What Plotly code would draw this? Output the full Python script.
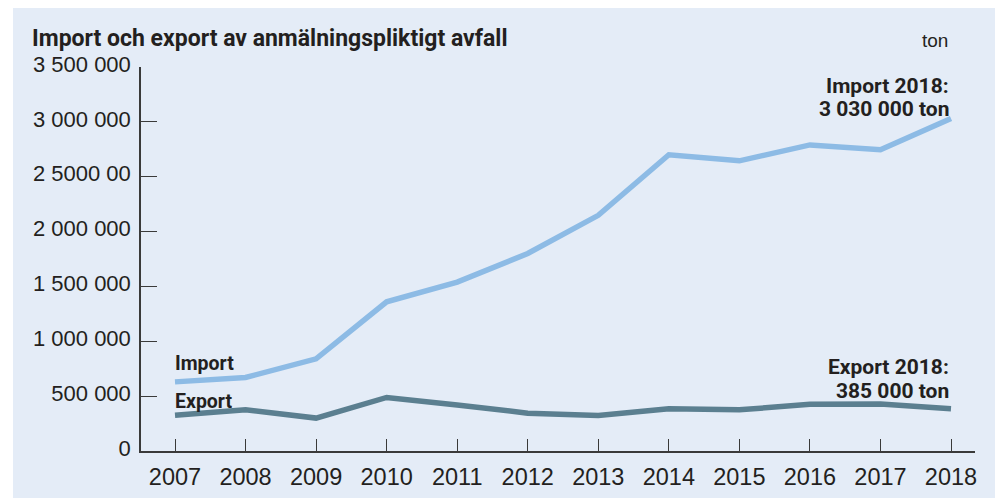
import plotly.graph_objects as go

years = list(range(2007, 2019))
import_ton = [630000, 670000, 840000, 1360000, 1540000, 1800000, 2148000, 2700000, 2645000, 2790000, 2745000, 3030000]
export_ton = [325000, 375000, 300000, 488000, 420000, 345000, 324000, 385000, 375000, 425000, 428000, 385000]
y_tickvals = [0, 500000, 1000000, 1500000, 2000000, 2500000, 3000000, 3500000]
y_ticktext = ["0", "500 000", "1 000 000", "1 500 000", "2 000 000", "2 5000 00", "3 000 000", "3 500 000"]

W, H = 995, 498
L, R, T, B = 141, 20, 67, 498 - 451
pw, ph = W - L - R, H - T - B

def px(sx):
    return (sx - L) / pw

def py(sy):
    return (H - B - sy) / ph

BG = "#e4ecf7"
TXT = "#231f20"
AX = "#3a3a3a"
FONT = "Liberation Sans, Arial, sans-serif"
BOLD = "Roboto, sans-serif"

fig = go.Figure()
fig.add_trace(go.Scatter(x=years, y=import_ton, mode="lines", name="Import",
                         line=dict(color="#8dbbe5", width=5.5), hoverinfo="skip"))
fig.add_trace(go.Scatter(x=years, y=export_ton, mode="lines", name="Export",
                         line=dict(color="#5b7f90", width=5.5), hoverinfo="skip"))

ann = []
ann.append(dict(xref="paper", yref="paper", x=px(30), y=py(38), xanchor="left", yanchor="middle",
                text="<b>Import och export av anmälningspliktigt avfall</b>", showarrow=False,
                font=dict(size=23, color=TXT, family=BOLD)))
ann.append(dict(xref="paper", yref="paper", x=px(950), y=py(40), xanchor="right", yanchor="middle",
                text="ton", showarrow=False, font=dict(size=19, color=TXT, family=FONT)))

def end_label(val, lines, shifts):
    for t, s in zip(lines, shifts):
        ann.append(dict(xref="x", yref="y", x=years[-1], y=val, xanchor="right", yanchor="middle",
                        yshift=s, text="<b>%s</b>" % t, showarrow=False,
                        font=dict(size=21, color=TXT, family=BOLD)))

end_label(import_ton[-1], ["Import 2018:", "3 030 000 ton"], [33, 10])
end_label(export_ton[-1], ["Export 2018:", "385 000 ton"], [42, 18])

ann.append(dict(xref="x", yref="y", x=years[0], y=795000, xanchor="left", yanchor="middle",
                xshift=-2, text="<b>Import</b>", showarrow=False,
                font=dict(size=19.5, color=TXT, family=BOLD)))
ann.append(dict(xref="x", yref="y", x=years[0], y=455000, xanchor="left", yanchor="middle",
                xshift=-2, text="<b>Export</b>", showarrow=False,
                font=dict(size=19.5, color=TXT, family=BOLD)))

shapes = [
    dict(type="rect", xref="paper", yref="paper", x0=px(0), x1=px(W), y0=py(8), y1=py(0),
         fillcolor="white", line=dict(width=0), layer="below"),
    dict(type="rect", xref="paper", yref="paper", x0=px(0), x1=px(13), y0=py(H), y1=py(0),
         fillcolor="white", line=dict(width=0), layer="below"),
]

fig.update_layout(
    width=W, height=H,
    margin=dict(l=L, r=R, t=T, b=B, pad=0),
    paper_bgcolor=BG, plot_bgcolor=BG,
    showlegend=False,
    annotations=ann, shapes=shapes,
    font=dict(family=FONT, color=TXT),
)
fig.update_xaxes(
    range=[2007 - 34 / 70.55, 2018 + 24 / 70.55], tickvals=years, ticktext=[str(y) for y in years],
    showgrid=False, zeroline=False, showline=True, linecolor=AX, linewidth=1.5,
    ticks="inside", ticklen=12, tickcolor=AX, tickwidth=1.2, automargin=False,
    tickfont=dict(size=23.5, color=TXT, family=FONT), ticklabelstandoff=4,
)
fig.update_yaxes(
    range=[0, 3500000], tickvals=y_tickvals, ticktext=y_ticktext,
    showgrid=False, zeroline=False, showline=True, linecolor=AX, linewidth=1.5,
    ticks="inside", ticklen=16, tickcolor=AX, tickwidth=1.2, automargin=False,
    tickfont=dict(size=22, color=TXT, family=FONT), ticklabelstandoff=4, ticklabelshift=-3,
)

fig.write_html("out.html", config={"displayModeBar": False},
               post_script="document.body.style.margin='0px';document.body.style.overflow='hidden';")
